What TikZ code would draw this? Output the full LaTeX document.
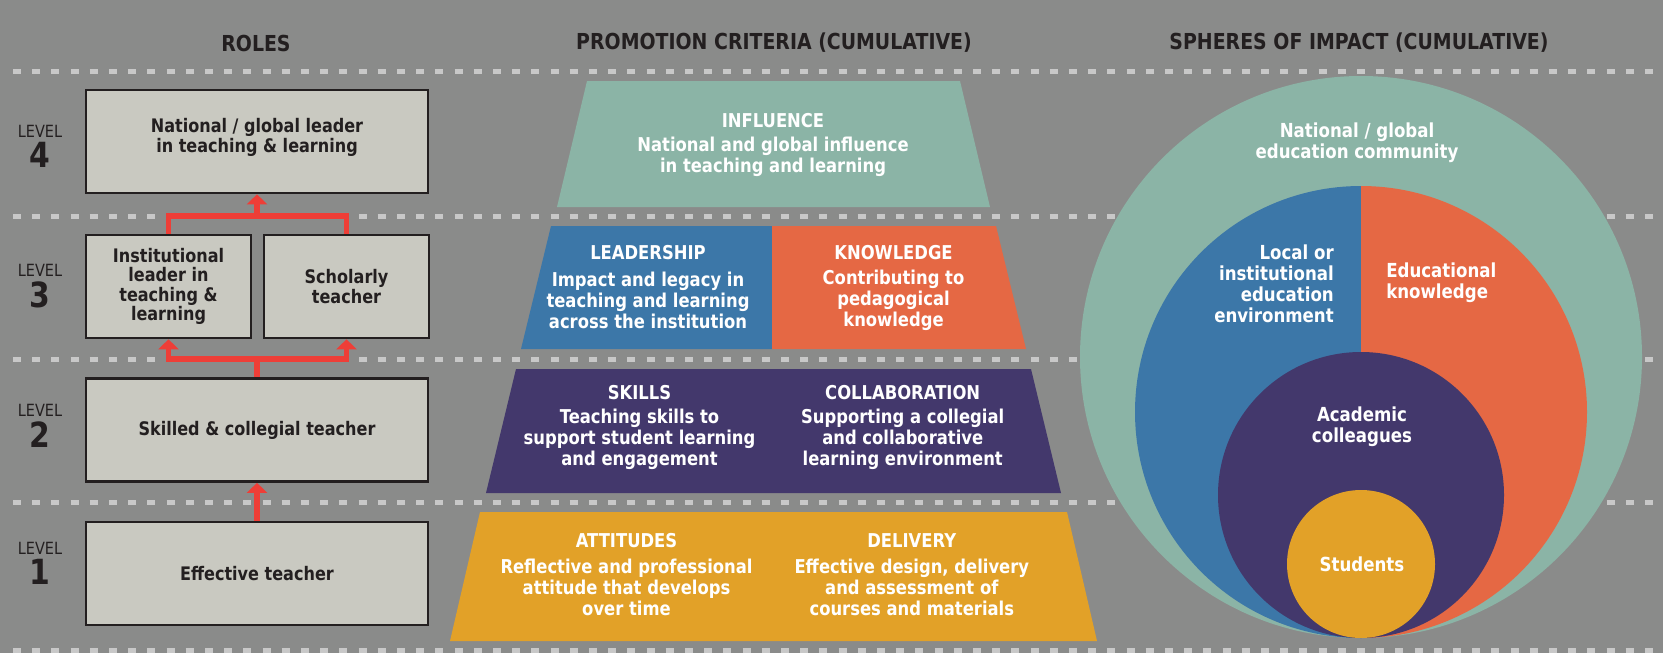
\documentclass[tikz,border=0pt]{standalone}
\usepackage{fontspec}
\setmainfont{DejaVu Sans}[FakeStretch=0.86]
\usetikzlibrary{arrows.meta,positioning}

\definecolor{bggray}{HTML}{8A8B8A}
\definecolor{dotgray}{HTML}{C8C8C8}
\definecolor{boxfill}{HTML}{C9C9C1}
\definecolor{inkdark}{HTML}{231F20}
\definecolor{linkred}{HTML}{EE3E37}
\definecolor{tealc}{HTML}{8BB4A6}
\definecolor{bluec}{HTML}{3C77A8}
\definecolor{orangec}{HTML}{E56844}
\definecolor{purplec}{HTML}{43386C}
\definecolor{goldc}{HTML}{E2A128}

\tikzset{
  role/.style={draw=inkdark, line width=2pt, fill=boxfill, text=inkdark,
    font=\bfseries\fontsize{14}{14.6}\selectfont, align=center,
    minimum height=103*0.75pt, inner sep=0pt},
  levelword/.style={text=inkdark, font=\fontsize{12.6}{14}\selectfont},
  levelnum/.style={text=inkdark, font=\bfseries\fontsize{26}{28}\selectfont},
  heading/.style={text=inkdark, font=\bfseries\fontsize{16.5}{18}\selectfont},
  crit/.style={text=white, font=\bfseries\fontsize{14.3}{15.75}\selectfont, align=center},
  sphere/.style={text=white, font=\bfseries\fontsize{14.5}{15.75}\selectfont, inner sep=0pt},
  sep/.style={draw=dotgray, line width=3.75pt, dash pattern=on 6pt off 8.4pt},
  link/.style={draw=linkred, line width=4pt},
  uparrow/.style={link, -{Triangle[width=15pt,length=7.5pt]}},
}

\begin{document}
\begin{tikzpicture}[x=0.75pt,y=-0.75pt]
  \fill[bggray] (0,0) rectangle (1663,653);
  \useasboundingbox (0,0) rectangle (1663,653);

  % headings
  \node[heading] (hroles) at (256,43) {ROLES};
  \node[heading] (hcrit) at (774,43) {PROMOTION CRITERIA (CUMULATIVE)};
  \node[heading] (hspheres) at (1359,43) {SPHERES OF IMPACT (CUMULATIVE)};

  % level separators
  \foreach \y in {71,216,359,502,650}
    \draw[sep] (12.9,\y) -- (1663,\y);
  \fill[bggray] (155,211) rectangle (359,221);
  \fill[bggray] (155,354) rectangle (359,364);

  % levels
  \node[levelword] (w4) at (40,131) {LEVEL};
  \node[levelnum] (n4) at (40,155) {4};
  \node[levelword] (w3) at (40,270) {LEVEL};
  \node[levelnum] (n3) at (40,295) {3};
  \node[levelword] (w2) at (40,410) {LEVEL};
  \node[levelnum] (n2) at (40,435) {2};
  \node[levelword] (w1) at (40,548) {LEVEL};
  \node[levelnum] (n1) at (40,572) {1};

  % roles
  \node[role, minimum width=342*0.75pt, text depth=9pt] (lead4) at (257,141.5) {National / global leader\\in teaching \& learning};
  \node[role, minimum width=165*0.75pt] (inst3) at (168.5,286.5) {Institutional\\leader in\\teaching \&\\learning};
  \node[role, minimum width=165*0.75pt] (schol3) at (346.5,286.5) {Scholarly\\teacher};
  \node[role, minimum width=342*0.75pt] (skill2) at (257,430) {Skilled \& collegial teacher};
  \node[role, minimum width=342*0.75pt] (eff1) at (257,573.5) {Effective teacher};

  \coordinate (j43) at (257,216);
  \coordinate (j32) at (257,359);
  \draw[link] (inst3.north) |- (j43) -| (schol3.north);
  \draw[uparrow] (j43) -- (lead4.south);
  \draw[link] (skill2.north) -- (j32);
  \draw[uparrow] (j32) -| (inst3.south);
  \draw[uparrow] (j32) -| (schol3.south);
  \draw[uparrow] (eff1.north) -- (skill2.south);

  % criteria
  \fill[tealc] (587,81) -- (960,81) -- (990,207) -- (557,207) -- cycle;
  \fill[bluec] (551,226) -- (772,226) -- (772,349) -- (521,349) -- cycle;
  \fill[orangec] (772,226) -- (996,226) -- (1026,349) -- (772,349) -- cycle;
  \fill[purplec] (516,369) -- (1031,369) -- (1061,493) -- (486,493) -- cycle;
  \fill[goldc] (480,512) -- (1067,512) -- (1097,641) -- (450,641) -- cycle;

  \node[crit] (inflt) at (773,121) {INFLUENCE};
  \node[crit] (inflb) at (773,156.5) {National and global influence\\in teaching and learning};
  \node[crit] (leadt) at (648,253) {LEADERSHIP};
  \node[crit] (leadb) at (648,300.5) {Impact and legacy in\\teaching and learning\\across the institution};
  \node[crit] (knowt) at (893.5,253) {KNOWLEDGE};
  \node[crit] (knowb) at (893.5,300.5) {Contributing to\\pedagogical\\knowledge};
  \node[crit] (skilt) at (639.5,392.7) {SKILLS};
  \node[crit] (skilb) at (639.5,439.3) {Teaching skills to\\support student learning\\and engagement};
  \node[crit] (collt) at (902.7,392.7) {COLLABORATION};
  \node[crit] (collb) at (902.7,439.3) {Supporting a collegial\\and collaborative\\learning environment};
  \node[crit] (attt) at (626.5,540.7) {ATTITUDES};
  \node[crit] (attb) at (626.5,587.3) {Reflective and professional\\attitude that develops\\over time};
  \node[crit] (delt) at (911.8,540.7) {DELIVERY};
  \node[crit] (delb) at (911.8,587.3) {Effective design, delivery\\and assessment of\\courses and materials};

  % spheres
  \fill[tealc] (1361,357) circle (281);
  \begin{scope}
    \clip (1100,150) rectangle (1361,650);
    \fill[bluec] (1361,412) circle (226);
  \end{scope}
  \begin{scope}
    \clip (1361,150) rectangle (1620,650);
    \fill[orangec] (1361,412) circle (226);
  \end{scope}
  \fill[purplec] (1361,495) circle (143);
  \fill[goldc] (1361,564) circle (74);

  \node[sphere, align=center] (natl) at (1357,142.5) {National / global\\education community};
  \node[sphere, align=right, anchor=east] (local) at (1334,283.3) {Local or\\institutional\\education\\environment};
  \node[sphere, align=left, anchor=west] (educ) at (1386,282.8) {Educational\\knowledge};
  \node[sphere, align=center] (acad) at (1362,426.7) {Academic\\colleagues};
  \node[sphere] (stud) at (1362,564) {Students};
\end{tikzpicture}
\end{document}
